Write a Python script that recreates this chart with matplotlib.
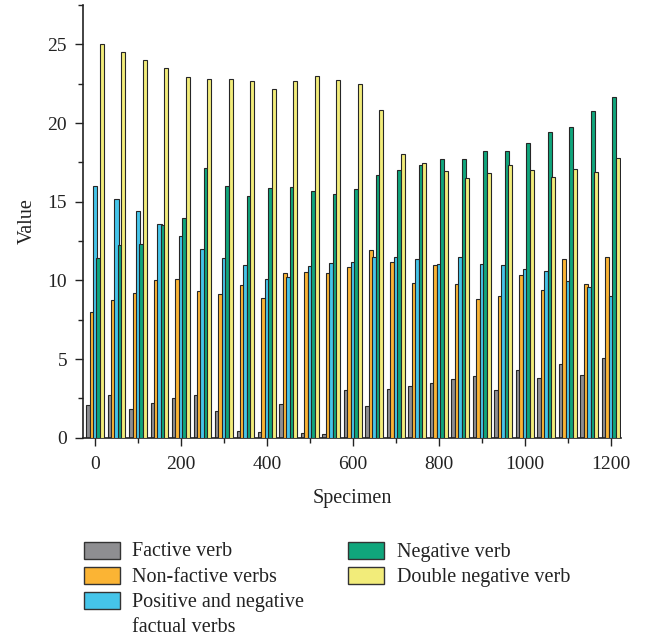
import matplotlib
matplotlib.use("Agg")
import matplotlib.pyplot as plt
from matplotlib.patches import Rectangle
from matplotlib.ticker import MultipleLocator
import numpy as np

plt.rcParams['font.family'] = ['Liberation Serif', 'DejaVu Serif']

specimens = list(range(0, 1201, 50))
series_names = ["Factive verb", "Non-factive verbs", "Positive and negative\nfactual verbs",
                "Negative verb", "Double negative verb"]
factive = [2.08, 2.7, 1.8, 2.23, 2.53, 2.72, 1.7, 0.45, 0.38, 2.14, 0.28, 0.23, 3.01,
           1.99, 3.1, 3.29, 3.5, 3.71, 3.9, 3.01, 4.31, 3.78, 4.71, 3.97, 5.09]
non_factive = [8.0, 8.74, 9.17, 10.0, 10.1, 9.32, 9.13, 9.7, 8.87, 10.44, 10.55, 10.44, 10.87,
               11.93, 11.18, 9.83, 10.95, 9.74, 8.81, 9.0, 10.31, 9.4, 11.33, 9.78, 11.5]
pos_neg_factual = [16.0, 15.2, 14.4, 13.6, 12.8, 12.0, 11.42, 10.95, 10.08, 10.19, 10.89, 11.08,
                   11.18, 11.48, 11.5, 11.35, 11.04, 11.5, 11.06, 10.95, 10.72, 10.59, 9.93, 9.55, 8.98]
negative = [11.42, 12.25, 12.33, 13.5, 13.96, 17.17, 16.0, 15.39, 15.85, 15.96, 15.7, 15.49,
            15.81, 16.7, 17.02, 17.34, 17.72, 17.72, 18.23, 18.25, 18.72, 19.44, 19.76, 20.78, 21.63]
double_negative = [25.0, 24.5, 24.0, 23.5, 22.94, 22.77, 22.77, 22.69, 22.18, 22.69, 22.96, 22.75,
                   22.5, 20.84, 18.0, 17.49, 16.98, 16.49, 16.85, 17.34, 17.02, 16.6, 17.06, 16.89, 17.8]
colors = ["#8e8e91", "#fbb434", "#45c5ea", "#10a67c", "#f2ec7a"]

W, H = 645, 639
fig = plt.figure(figsize=(W / 100, H / 100), dpi=100)
ax = fig.add_axes([83 / W, 1 - 437.7 / H, (621 - 83) / W, (437.7 - 5) / H])

all_series = [factive, non_factive, pos_neg_factual, negative, double_negative]
x = np.array(specimens, dtype=float)
step = 8.0
bw = 9.5
for i, (vals, c) in enumerate(zip(all_series, colors)):
    ax.bar(x + (i - 2) * step, vals, width=bw, color=c, edgecolor="#262626",
           linewidth=0.8, zorder=2 + i)

ax.set_xlim(-28, 1224)
ax.set_ylim(0, 27.5)
ax.spines['top'].set_visible(False)
ax.spines['right'].set_visible(False)
for s in ['left', 'bottom']:
    ax.spines[s].set_linewidth(1.2)
    ax.spines[s].set_color("#222222")
ax.xaxis.set_major_locator(MultipleLocator(200))
ax.xaxis.set_minor_locator(MultipleLocator(100))
ax.yaxis.set_major_locator(MultipleLocator(5))
ax.yaxis.set_minor_locator(MultipleLocator(2.5))
ax.tick_params(which='major', direction='out', length=5.5, width=1.0, labelsize=14,
               colors="#222222")
ax.tick_params(axis='x', which='major', pad=8)
ax.tick_params(axis='y', which='major', pad=6)
ax.tick_params(which='minor', direction='out', length=3.3, width=1.0, colors="#222222")
ax.set_xlabel("Specimen", fontsize=14.5, labelpad=11, color="#222222")
ax.set_ylabel("Value", fontsize=14.5, labelpad=8, color="#222222")

# legend
rows_y = [550, 575.3, 600.3]
col_x = [83.5, 348]
text_dx = 49
entries = [(0, 0), (0, 1), (0, 2), (1, 0), (1, 1)]
for (col, row), name, c in zip(entries, series_names, colors):
    yc = rows_y[row]
    rect = Rectangle((col_x[col] / W, 1 - (yc + 8.5) / H), 36 / W, 17 / H,
                     transform=fig.transFigure, facecolor=c, edgecolor="#333333", linewidth=1.0)
    fig.add_artist(rect)
    fig.text((col_x[col] + text_dx) / W, 1 - (yc - 7.5) / H, name, fontsize=14.5,
             va='top', ha='left', color="#222222", linespacing=1.45)

fig.savefig("out.png", dpi=100)
